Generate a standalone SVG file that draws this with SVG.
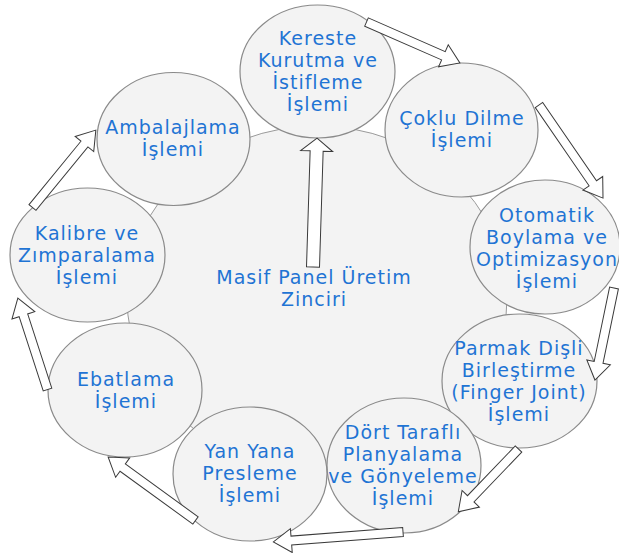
<svg xmlns="http://www.w3.org/2000/svg" width="619" height="553" viewBox="0 0 619 553">
  <style>
    .hub { fill: #f3f3f3; stroke: #9a9a9a; stroke-width: 1; }
    .step { fill: #f3f3f3; stroke: #8a8a8a; stroke-width: 1.2; }
    .lbl { font-family: "DejaVu Sans", Verdana, sans-serif; font-size: 19px; letter-spacing: 1px; fill: #1f74d4; text-anchor: middle; }
    .arrow { fill: #ffffff; stroke: #3a3a3a; stroke-width: 1; stroke-linejoin: miter; }
  </style>
  <rect width="619" height="553" fill="#ffffff"/>

  <!-- central hub -->
  <g id="hub">
    <ellipse class="hub" cx="317" cy="298" rx="190" ry="172"/>
  </g>

  <!-- process steps around the hub -->
  <g id="kereste">
    <ellipse class="step" cx="317.5" cy="71.5" rx="77.5" ry="66.5"/>
    <text class="lbl" x="318" y="45">Kereste</text>
    <text class="lbl" x="318" y="67">Kurutma ve</text>
    <text class="lbl" x="318" y="89">İstifleme</text>
    <text class="lbl" x="318" y="111">İşlemi</text>
  </g>
  <g id="coklu-dilme">
    <ellipse class="step" cx="461.5" cy="130" rx="76.5" ry="67"/>
    <text class="lbl" x="462" y="125">Çoklu Dilme</text>
    <text class="lbl" x="462" y="147">İşlemi</text>
  </g>
  <g id="otomatik-boylama">
    <ellipse class="step" cx="545" cy="247" rx="75" ry="67"/>
    <text class="lbl" x="547" y="222">Otomatik</text>
    <text class="lbl" x="547" y="244">Boylama ve</text>
    <text class="lbl" x="547" y="266">Optimizasyon</text>
    <text class="lbl" x="547" y="288">İşlemi</text>
  </g>
  <g id="parmak-disli">
    <ellipse class="step" cx="519.5" cy="381" rx="77.5" ry="67"/>
    <text class="lbl" x="519" y="355">Parmak Dişli</text>
    <text class="lbl" x="519" y="377">Birleştirme</text>
    <text class="lbl" x="519" y="399">(Finger Joint)</text>
    <text class="lbl" x="519" y="421">İşlemi</text>
  </g>
  <g id="dort-tarafli">
    <ellipse class="step" cx="404" cy="465.5" rx="77" ry="67.5"/>
    <text class="lbl" x="403" y="439">Dört Taraflı</text>
    <text class="lbl" x="403" y="461">Planyalama</text>
    <text class="lbl" x="403" y="483">ve Gönyeleme</text>
    <text class="lbl" x="403" y="505">İşlemi</text>
  </g>
  <g id="yan-yana-presleme">
    <ellipse class="step" cx="250" cy="474" rx="77" ry="67"/>
    <text class="lbl" x="250" y="458">Yan Yana</text>
    <text class="lbl" x="250" y="480">Presleme</text>
    <text class="lbl" x="250" y="502">İşlemi</text>
  </g>
  <g id="ebatlama">
    <ellipse class="step" cx="125" cy="390" rx="77" ry="67"/>
    <text class="lbl" x="126" y="386">Ebatlama</text>
    <text class="lbl" x="126" y="408">İşlemi</text>
  </g>
  <g id="kalibre">
    <ellipse class="step" cx="87.5" cy="255" rx="77.5" ry="67"/>
    <text class="lbl" x="87" y="240">Kalibre ve</text>
    <text class="lbl" x="87" y="262">Zımparalama</text>
    <text class="lbl" x="87" y="284">İşlemi</text>
  </g>
  <g id="ambalajlama">
    <ellipse class="step" cx="173.5" cy="139" rx="76.5" ry="66.5"/>
    <text class="lbl" x="173" y="134">Ambalajlama</text>
    <text class="lbl" x="173" y="156">İşlemi</text>
  </g>

  <g id="hub-label">
    <text class="lbl" x="314" y="284">Masif Panel Üretim</text>
    <text class="lbl" x="314" y="306">Zinciri</text>
  </g>

  <!-- block arrows: drawn along +x from the tail, then placed -->
  <g id="connectors">
    <polygon class="arrow" transform="translate(366.5,22) rotate(23.7)" points="0,-4.5 84,-4.5 84,-12 102,0 84,12 84,4.5 0,4.5"/>
    <polygon class="arrow" transform="translate(539,105) rotate(55.5)" points="0,-4.5 95,-4.5 95,-12 113,0 95,12 95,4.5 0,4.5"/>
    <polygon class="arrow" transform="translate(614,288) rotate(101.7)" points="0,-4.5 76,-4.5 76,-12 94,0 76,12 76,4.5 0,4.5"/>
    <polygon class="arrow" transform="translate(518.5,449) rotate(133.8)" points="0,-4.5 69,-4.5 69,-12 87,0 69,12 69,4.5 0,4.5"/>
    <polygon class="arrow" transform="translate(403,532) rotate(175.6)" points="0,-4.5 112,-4.5 112,-12 130,0 112,12 112,4.5 0,4.5"/>
    <polygon class="arrow" transform="translate(195.5,520.5) rotate(216)" points="0,-4.5 90,-4.5 90,-12 108,0 90,12 90,4.5 0,4.5"/>
    <polygon class="arrow" transform="translate(47.5,389.5) rotate(252)" points="0,-4.5 78,-4.5 78,-12 96,0 78,12 78,4.5 0,4.5"/>
    <polygon class="arrow" transform="translate(32.5,207.5) rotate(-50.7)" points="0,-4.5 82,-4.5 82,-12 100,0 82,12 82,4.5 0,4.5"/>
    <polygon class="arrow" transform="translate(313,267) rotate(-88.2)" points="0,-6.5 116,-6.5 116,-16 129,0 116,16 116,6.5 0,6.5"/>
  </g>
</svg>
